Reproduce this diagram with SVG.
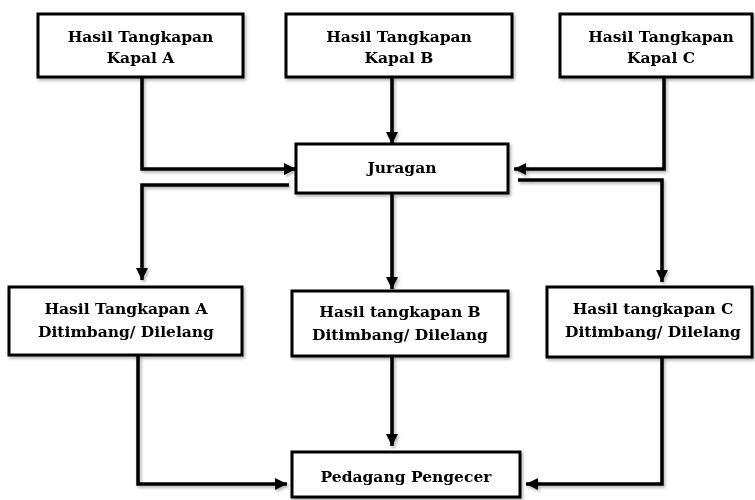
<svg xmlns="http://www.w3.org/2000/svg" width="755" height="500" viewBox="0 0 755 500">
<defs>
<style>
.box{fill:#fff;stroke:#000;stroke-width:3}
.t{font-family:"DejaVu Serif","Liberation Serif",serif;font-weight:bold;font-size:15.5px;text-anchor:middle;fill:#000}
.c{fill:none;stroke:#000;stroke-width:3.5}
</style>
<marker id="ah" markerUnits="userSpaceOnUse" markerWidth="14" markerHeight="14" viewBox="0 0 14 14" refX="12" refY="7" orient="auto">
<path d="M0,1 L12,7 L0,13 Z" fill="#000"/>
</marker>
<filter id="sh" x="-10%" y="-10%" width="130%" height="140%">
<feDropShadow dx="1.5" dy="2" stdDeviation="1.5" flood-color="#000" flood-opacity="0.3"/>
</filter>
</defs>
<rect width="755" height="500" fill="#fff"/>
<g id="connectors" filter="url(#sh)">
<path class="c" d="M142,77 V169 H296" marker-end="url(#ah)"/>
<path class="c" d="M392,77 V144" marker-end="url(#ah)"/>
<path class="c" d="M664,77 V169 H514" marker-end="url(#ah)"/>
<path class="c" d="M289,185 H142 V280" marker-end="url(#ah)"/>
<path class="c" d="M392,193 V289" marker-end="url(#ah)"/>
<path class="c" d="M518,180 H662 V282" marker-end="url(#ah)"/>
<path class="c" d="M138,355 V484 H287" marker-end="url(#ah)"/>
<path class="c" d="M392,356 V446" marker-end="url(#ah)"/>
<path class="c" d="M662,357 V484 H526" marker-end="url(#ah)"/>
</g>
<g id="kapalA" filter="url(#sh)"><rect class="box" x="38" y="14" width="205" height="63"/><text class="t" x="140.5" y="42">Hasil Tangkapan</text><text class="t" x="140.5" y="63">Kapal A</text></g>
<g id="kapalB" filter="url(#sh)"><rect class="box" x="286" y="14" width="226" height="63"/><text class="t" x="399" y="42">Hasil Tangkapan</text><text class="t" x="399" y="63">Kapal B</text></g>
<g id="kapalC" filter="url(#sh)"><rect class="box" x="560" y="14" width="192" height="63"/><text class="t" x="661" y="42">Hasil Tangkapan</text><text class="t" x="661" y="63">Kapal C</text></g>
<g id="juragan" filter="url(#sh)"><rect class="box" x="296" y="144" width="212" height="49"/><text class="t" x="402" y="173">Juragan</text></g>
<g id="timbangA" filter="url(#sh)"><rect class="box" x="9" y="287" width="233" height="68"/><text class="t" x="126" y="314">Hasil Tangkapan A</text><text class="t" x="126" y="337">Ditimbang/ Dilelang</text></g>
<g id="timbangB" filter="url(#sh)"><rect class="box" x="292" y="291" width="216" height="65"/><text class="t" x="400" y="317">Hasil tangkapan B</text><text class="t" x="400" y="340">Ditimbang/ Dilelang</text></g>
<g id="timbangC" filter="url(#sh)"><rect class="box" x="547" y="287" width="205" height="70"/><text class="t" x="653" y="314">Hasil tangkapan C</text><text class="t" x="653" y="337">Ditimbang/ Dilelang</text></g>
<g id="pedagang" filter="url(#sh)"><rect class="box" x="292" y="452" width="228" height="45"/><text class="t" x="406" y="482">Pedagang Pengecer</text></g>
</svg>
